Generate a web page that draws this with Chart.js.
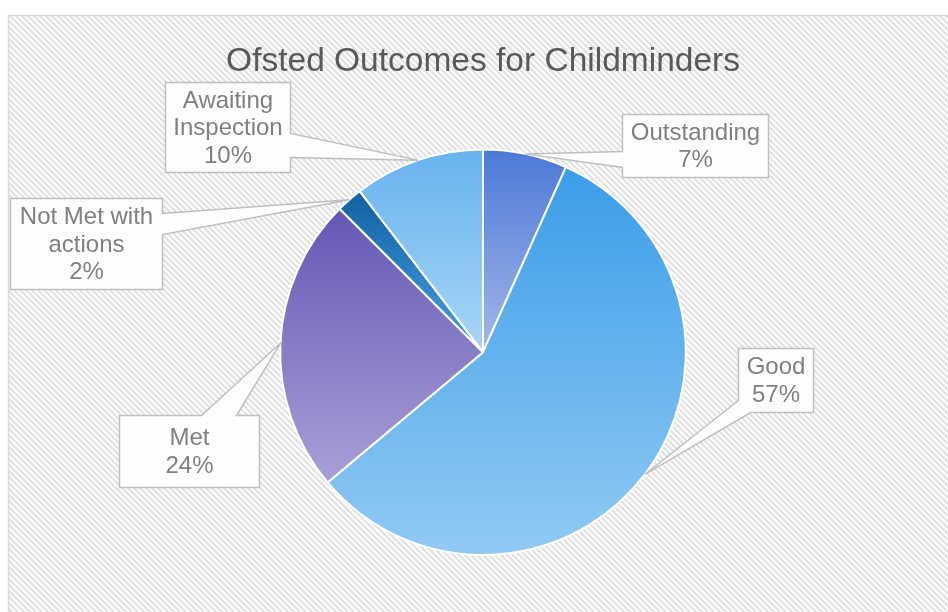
<!DOCTYPE html>
<html>
<head>
<meta charset="utf-8">
<script src="https://cdn.jsdelivr.net/npm/chart.js@4"></script>
<style>
  body { margin: 0; background: #fff; }
  canvas { display: block; }
</style>
</head>
<body>
<canvas id="pieChart" width="948" height="612"></canvas>
<script>
// 데이터
const labels = ['Outstanding', 'Good', 'Met', 'Not Met with actions', 'Awaiting Inspection'];
const labelLines = [['Outstanding'], ['Good'], ['Met'], ['Not Met with', 'actions'], ['Awaiting', 'Inspection']];
const values = [6.7, 57.2, 23.6, 2.1, 10.4];

// 조각 색 (위 -> 아래 그라디언트)
const topColors = ['#4c79d7', '#3b9de8', '#6457b5', '#1361a2', '#66b3ee'];
const bottomColors = ['#a4b7e9', '#91caf4', '#a9a0d7', '#45a0e4', '#a9d6f7'];

// 콜아웃 상자 배치 (tip 기준 오프셋)
const callouts = [
    { dx: 97, dy: -40, w: 146, h: 63, side: 'left', a: 37, b: 53 },
    { dx: 93, dy: -126, w: 75, h: 64, side: 'bl', a: 52, b: 12 },
    { dx: -161, dy: 72, w: 140, h: 72, side: 'top', a: 82, b: 117 },
    { dx: -339, dy: -2, w: 152, h: 91, side: 'right', a: 15, b: 36 },
    { dx: -253, dy: -78, w: 125, h: 90, side: 'right', a: 51, b: 75 }
];

const total = values.reduce((s, v) => s + v, 0);

function sliceGradient(context) {
    const chart = context.chart;
    const area = chart.chartArea;
    const i = context.dataIndex;
    if (!area) return topColors[i];
    const cx = (area.left + area.right) / 2;
    const cy = (area.top + area.bottom) / 2;
    const r = Math.min(area.width, area.height) / 2;
    let before = 0;
    for (let k = 0; k < i; k++) before += values[k];
    const start = before / total * Math.PI * 2;
    const end = (before + values[i]) / total * Math.PI * 2;
    const ys = [cy, cy - r * Math.cos(start), cy - r * Math.cos(end)];
    if (start <= 0 || end >= Math.PI * 2) ys.push(cy - r);
    if (start < Math.PI && end > Math.PI) ys.push(cy + r);
    const g = chart.ctx.createLinearGradient(0, Math.min(...ys), 0, Math.max(...ys));
    g.addColorStop(0, topColors[i]);
    g.addColorStop(1, bottomColors[i]);
    return g;
}

// 배경 빗금 + 테두리
const backgroundPlugin = {
    id: 'hatchBackground',
    beforeDraw(chart) {
        const ctx = chart.ctx;
        const tile = document.createElement('canvas');
        tile.width = 6; tile.height = 6;
        const tc = tile.getContext('2d');
        tc.fillStyle = '#ffffff';
        tc.fillRect(0, 0, 6, 6);
        tc.strokeStyle = '#e3e3e3';
        tc.lineWidth = 2.4;
        tc.beginPath();
        for (const k of [-6, 0, 6]) {
            tc.moveTo(k - 1, -1);
            tc.lineTo(k + 7, 7);
        }
        tc.stroke();
        ctx.save();
        ctx.fillStyle = '#ffffff';
        ctx.fillRect(0, 0, chart.width, chart.height);
        ctx.fillStyle = ctx.createPattern(tile, 'repeat');
        ctx.fillRect(8, 15, chart.width, chart.height);
        ctx.strokeStyle = '#d9d9d9';
        ctx.lineWidth = 1.5;
        ctx.strokeRect(8.5, 15.5, chart.width + 10, chart.height + 10);
        ctx.restore();
    }
};

// 콜아웃 라벨
const calloutPlugin = {
    id: 'callouts',
    afterDraw(chart) {
        const ctx = chart.ctx;
        const meta = chart.getDatasetMeta(0);
        meta.data.forEach((arc, i) => {
            const c = callouts[i];
            const mid = (arc.startAngle + arc.endAngle) / 2;
            const tx = arc.x + arc.outerRadius * Math.cos(mid);
            const ty = arc.y + arc.outerRadius * Math.sin(mid);
            const L = Math.round(tx + c.dx) + 0.5, T = Math.round(ty + c.dy) + 0.5;
            const R = L + c.w, B = T + c.h;
            let pts;
            if (c.side === 'right') {
                pts = [[L, T], [R, T], [R, T + c.a], [tx, ty], [R, T + c.b], [R, B], [L, B]];
            } else if (c.side === 'left') {
                pts = [[L, T], [R, T], [R, B], [L, B], [L, T + c.b], [tx, ty], [L, T + c.a]];
            } else if (c.side === 'top') {
                pts = [[L, T], [L + c.a, T], [tx, ty], [L + c.b, T], [R, T], [R, B], [L, B]];
            } else {
                pts = [[L, T], [R, T], [R, B], [L + c.b, B], [tx, ty], [L, T + c.a]];
            }
            ctx.save();
            ctx.beginPath();
            pts.forEach((p, k) => k ? ctx.lineTo(p[0], p[1]) : ctx.moveTo(p[0], p[1]));
            ctx.closePath();
            ctx.fillStyle = 'rgba(255,255,255,0.88)';
            ctx.fill();
            ctx.strokeStyle = '#bfbfbf';
            ctx.lineWidth = 1.5;
            ctx.stroke();

            const pct = Math.round(values[i] / total * 100) + '%';
            const lines = labelLines[i].concat([pct]);
            const lh = 27.5;
            ctx.fillStyle = '#808080';
            ctx.font = '24px "Liberation Sans", Arial, sans-serif';
            ctx.textAlign = 'center';
            ctx.textBaseline = 'middle';
            const cx = (L + R) / 2;
            const y0 = (T + B) / 2 - (lines.length - 1) * lh / 2;
            lines.forEach((t, k) => ctx.fillText(t, cx, y0 + k * lh + 1));
            ctx.restore();
        });
    }
};

const ctx = document.getElementById('pieChart').getContext('2d');
const pieChart = new Chart(ctx, {
    type: 'pie',
    data: {
        labels: labels,
        datasets: [{
            data: values,
            backgroundColor: sliceGradient,
            borderColor: '#ffffff',
            borderWidth: 2,
            hoverOffset: 0
        }]
    },
    options: {
        responsive: false,
        animation: false,
        layout: { padding: { left: 18, right: 0, top: 0, bottom: 56 } },
        plugins: {
            legend: { display: false },
            tooltip: { enabled: false },
            title: {
                display: true,
                text: 'Ofsted Outcomes for Childminders',
                color: '#595959',
                font: { family: '"Liberation Sans", Arial, sans-serif', size: 33.5, weight: 'normal', lineHeight: 1.2 },
                padding: { top: 42, bottom: 66.2 }
            }
        }
    },
    plugins: [backgroundPlugin, calloutPlugin]
});
</script>
</body>
</html>
